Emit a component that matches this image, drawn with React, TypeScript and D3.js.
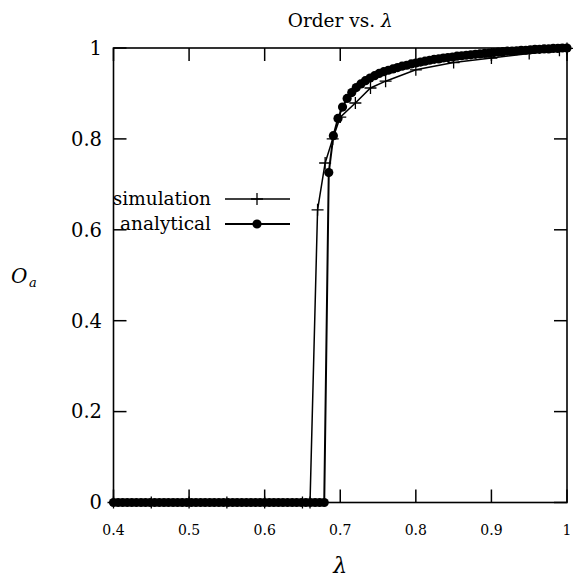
import React from "react";
import * as d3 from "d3";

const xTicks = [0.4, 0.5, 0.6, 0.7, 0.8, 0.9, 1];
const xTickLabels = ["0.4", "0.5", "0.6", "0.7", "0.8", "0.9", "1"];
const yTicks = [0, 0.2, 0.4, 0.6, 0.8, 1];
const yTickLabels = ["0", "0.2", "0.4", "0.6", "0.8", "1"];

const simLambda = [0.4, 0.45, 0.5, 0.55, 0.6, 0.65, 0.66, 0.67, 0.68, 0.69, 0.7, 0.72, 0.74, 0.76, 0.8, 0.85, 0.9, 0.95, 0.99, 1.0];
const simOrder = [0, 0, 0, 0, 0, 0, 0, 0.644, 0.747, 0.8, 0.848, 0.879, 0.912, 0.927, 0.952, 0.968, 0.978, 0.988, 0.995, 0.999];

const anaLambda = [
  0.4, 0.4061, 0.4121, 0.4182, 0.4242, 0.4303, 0.4364, 0.4424, 0.4485, 0.4545,
  0.4606, 0.4667, 0.4727, 0.4788, 0.4848, 0.4909, 0.497, 0.503, 0.5091, 0.5152,
  0.5212, 0.5273, 0.5333, 0.5394, 0.5455, 0.5515, 0.5576, 0.5636, 0.5697, 0.5758,
  0.5818, 0.5879, 0.5939, 0.6, 0.6061, 0.6121, 0.6182, 0.6242, 0.6303, 0.6364,
  0.6424, 0.6485, 0.6545, 0.6606, 0.6667, 0.6727, 0.6788, 0.6848, 0.6909, 0.697,
  0.703, 0.7091, 0.7152, 0.7212, 0.7273, 0.7333, 0.7394, 0.7455, 0.7515, 0.7576,
  0.7636, 0.7697, 0.7758, 0.7818, 0.7879, 0.7939, 0.8, 0.8061, 0.8121, 0.8182,
  0.8242, 0.8303, 0.8364, 0.8424, 0.8485, 0.8545, 0.8606, 0.8667, 0.8727, 0.8788,
  0.8848, 0.8909, 0.897, 0.903, 0.9091, 0.9152, 0.9212, 0.9273, 0.9333, 0.9394,
  0.9455, 0.9515, 0.9576, 0.9636, 0.9697, 0.9758, 0.9818, 0.9879, 0.9939, 1.0,
];
const anaOrder = [
  0, 0, 0, 0, 0, 0, 0, 0, 0, 0,
  0, 0, 0, 0, 0, 0, 0, 0, 0, 0,
  0, 0, 0, 0, 0, 0, 0, 0, 0, 0,
  0, 0, 0, 0, 0, 0, 0, 0, 0, 0,
  0, 0, 0, 0, 0, 0, 0, 0.726, 0.807, 0.845,
  0.87, 0.889, 0.902, 0.913, 0.921, 0.928, 0.934, 0.939, 0.944, 0.948,
  0.951, 0.954, 0.957, 0.96, 0.962, 0.965, 0.967, 0.969, 0.971, 0.973,
  0.975, 0.976, 0.978, 0.979, 0.98, 0.982, 0.983, 0.984, 0.985, 0.986,
  0.987, 0.988, 0.989, 0.99, 0.991, 0.992, 0.993, 0.993, 0.994, 0.995,
  0.995, 0.996, 0.997, 0.997, 0.998, 0.998, 0.999, 0.999, 1.0, 1.0,
];

const W = 579;
const H = 583;
const L = 113.5, R = 567, T = 48, B = 502.5;
const FONT = "'DejaVu Serif', 'Liberation Serif', serif";

export default function App() {
  const x = d3.scaleLinear().domain([0.4, 1]).range([L, R]);
  const y = d3.scaleLinear().domain([0, 1]).range([B, T]);
  const line = d3.line<[number, number]>().x((d) => x(d[0])).y((d) => y(d[1]));
  const sim: [number, number][] = simLambda.map((l, i) => [l, simOrder[i]]);
  const ana: [number, number][] = anaLambda.map((l, i) => [l, anaOrder[i]]);
  const tick = 13;
  const cs = 6;
  const cross = (cx: number, cy: number, k: string) => (
    <path key={k} d={`M${cx - cs},${cy}H${cx + cs}M${cx},${cy - cs}V${cy + cs}`} stroke="#000" strokeWidth={1.3} fill="none" />
  );
  return (
    <svg width={W} height={H} style={{ position: "absolute", left: 0, top: 0, background: "#fff", fontFamily: FONT }}>
      <rect x={0} y={0} width={W} height={H} fill="#fff" />
      <text x={(L + R) / 2} y={27} textAnchor="middle" fontSize={18.5} style={{ fontFamily: FONT }}>
        Order vs. <tspan fontStyle="italic">λ</tspan>
      </text>
      {xTicks.map((t, i) => (
        <g key={"xt" + i}>
          <line x1={x(t)} x2={x(t)} y1={B} y2={B - tick} stroke="#000" strokeWidth={1.5} />
          <line x1={x(t)} x2={x(t)} y1={T} y2={T + tick} stroke="#000" strokeWidth={1.5} />
          <text x={x(t)} y={535} textAnchor="middle" fontSize={14} style={{ fontFamily: FONT }}>{xTickLabels[i]}</text>
        </g>
      ))}
      {yTicks.map((t, i) => (
        <g key={"yt" + i}>
          <line x1={L} x2={L + tick} y1={y(t)} y2={y(t)} stroke="#000" strokeWidth={1.5} />
          <line x1={R} x2={R - tick} y1={y(t)} y2={y(t)} stroke="#000" strokeWidth={1.5} />
          <text x={102} y={y(t)} dy="0.35em" textAnchor="end" fontSize={19.5} style={{ fontFamily: FONT }}>{yTickLabels[i]}</text>
        </g>
      ))}
      <rect x={L} y={T} width={R - L} height={B - T} fill="none" stroke="#000" strokeWidth={1.6} />
      <text x={(L + R) / 2} y={573} textAnchor="middle" fontSize={22} fontStyle="italic" style={{ fontFamily: FONT }}>λ</text>
      <text x={11} y={283} fontSize={20} fontStyle="italic" style={{ fontFamily: FONT }}>O</text>
      <text x={29} y={287} fontSize={13} fontStyle="italic" style={{ fontFamily: FONT }}>a</text>
      <path d={line(sim) || ""} fill="none" stroke="#000" strokeWidth={1.5} />
      {sim.map((d, i) => cross(x(d[0]), y(d[1]), "c" + i))}
      <path d={line(ana) || ""} fill="none" stroke="#000" strokeWidth={2} />
      {ana.map((d, i) => (
        <circle key={"a" + i} cx={x(d[0])} cy={y(d[1])} r={4.6} fill="#000" />
      ))}
      <text x={211} y={199} dy="0.33em" textAnchor="end" fontSize={18.5} style={{ fontFamily: FONT }}>simulation</text>
      <line x1={225} x2={290} y1={199} y2={199} stroke="#000" strokeWidth={1.5} />
      {cross(257, 199, "lg1")}
      <text x={211} y={224} dy="0.33em" textAnchor="end" fontSize={18.5} style={{ fontFamily: FONT }}>analytical</text>
      <line x1={225} x2={290} y1={224} y2={224} stroke="#000" strokeWidth={2} />
      <circle cx={257} cy={224} r={4.6} fill="#000" />
    </svg>
  );
}
